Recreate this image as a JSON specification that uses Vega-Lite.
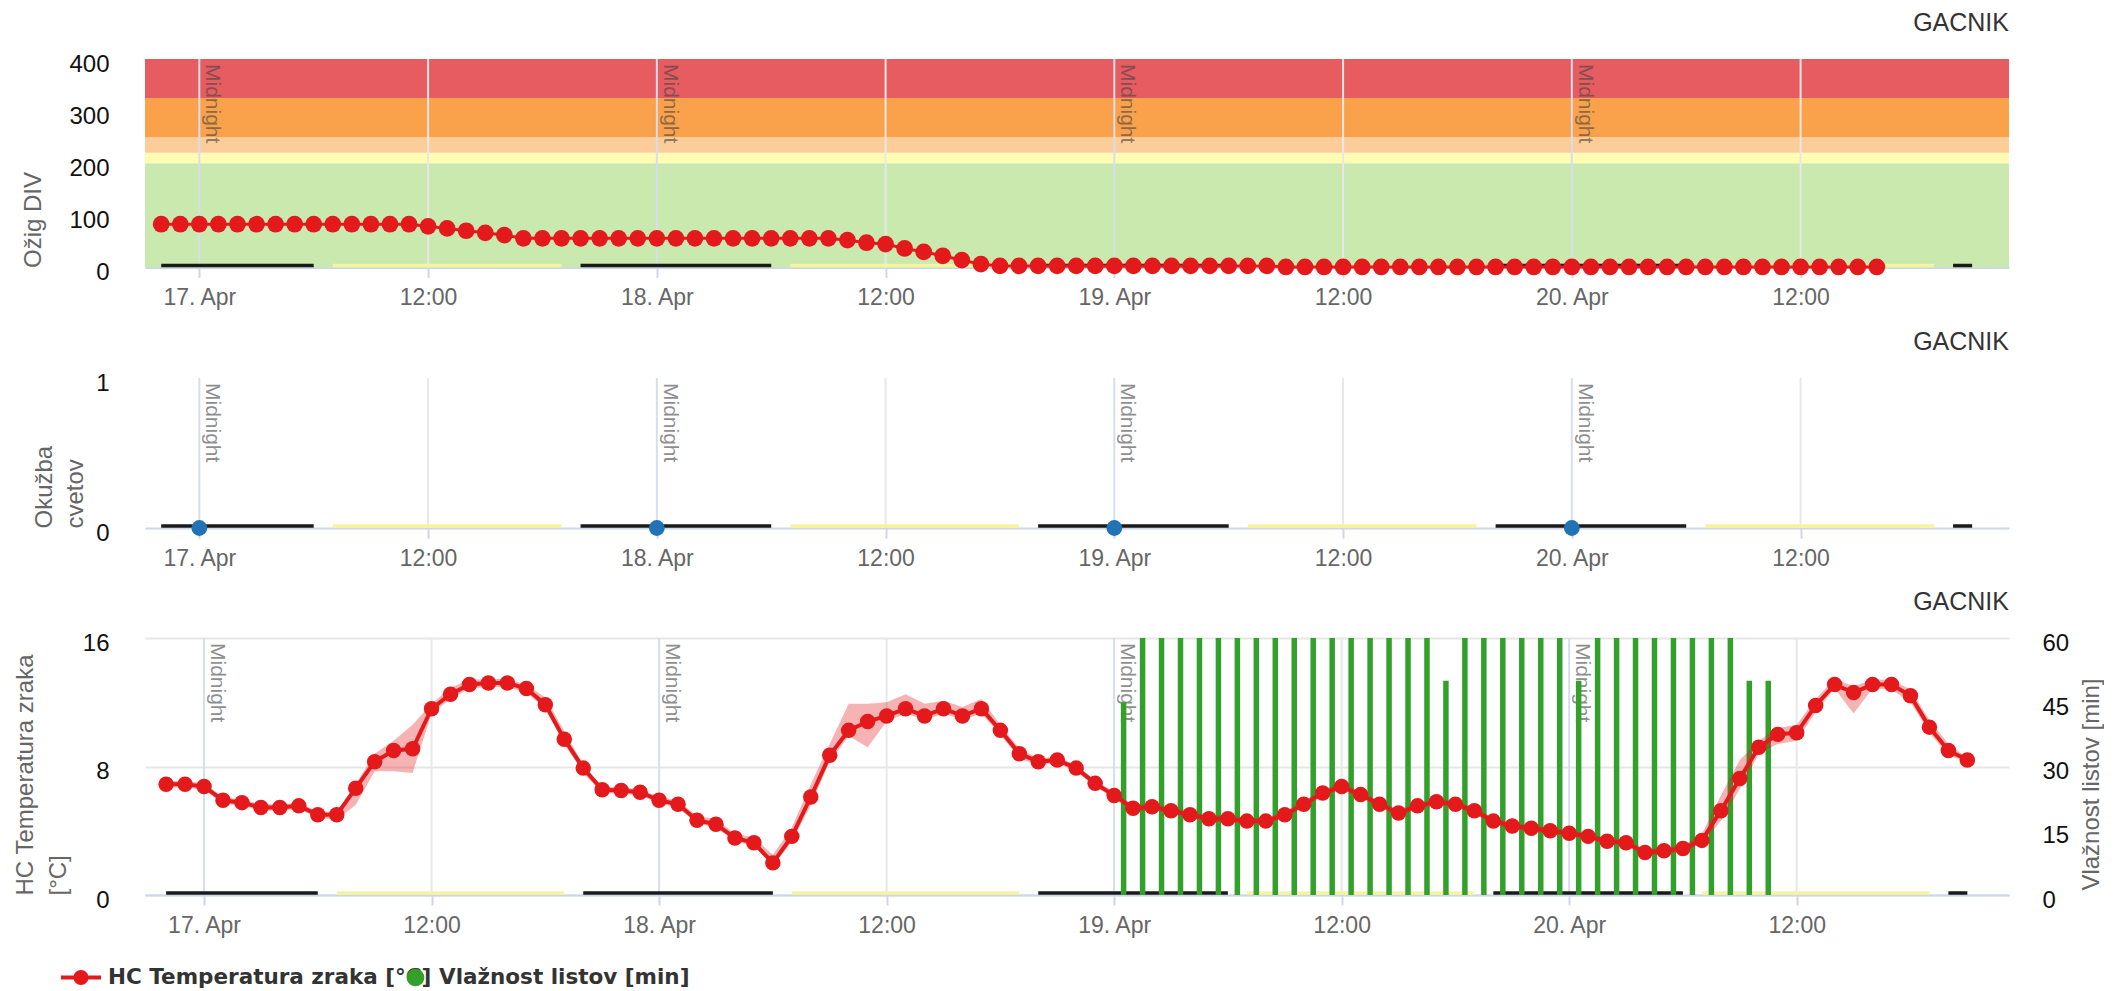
{
  "$schema": "https://vega.github.io/schema/vega-lite/v6.json",
  "padding": {"left": 13, "top": 11, "right": 1, "bottom": 0},
  "bounds": "flush",
  "spacing": 110,
  "resolve": {"scale": {"color": "independent", "fill": "independent"}},
  "datasets": {
    "bands": [
      {"lo": 0, "hi": 200, "c": "a"},
      {"lo": 200, "hi": 220, "c": "b"},
      {"lo": 220, "hi": 250, "c": "c"},
      {"lo": 250, "hi": 325, "c": "d"},
      {"lo": 325, "hi": 400, "c": "e"}
    ],
    "vl": [
      {"t": "2024-04-17T00:00Z", "k": "m"}, {"t": "2024-04-17T12:00Z", "k": "n"},
      {"t": "2024-04-18T00:00Z", "k": "m"}, {"t": "2024-04-18T12:00Z", "k": "n"},
      {"t": "2024-04-19T00:00Z", "k": "m"}, {"t": "2024-04-19T12:00Z", "k": "n"},
      {"t": "2024-04-20T00:00Z", "k": "m"}, {"t": "2024-04-20T12:00Z", "k": "n"}
    ],
    "mid": [
      {"t": "2024-04-17T00:00Z"}, {"t": "2024-04-18T00:00Z"}, {"t": "2024-04-19T00:00Z"}, {"t": "2024-04-20T00:00Z"}
    ],
    "nd": [
      {"t": "2024-04-16T22:00Z", "t2": "2024-04-17T06:00Z", "k": "n"},
      {"t": "2024-04-17T07:00Z", "t2": "2024-04-17T19:00Z", "k": "d"},
      {"t": "2024-04-17T20:00Z", "t2": "2024-04-18T06:00Z", "k": "n"},
      {"t": "2024-04-18T07:00Z", "t2": "2024-04-18T19:00Z", "k": "d"},
      {"t": "2024-04-18T20:00Z", "t2": "2024-04-19T06:00Z", "k": "n"},
      {"t": "2024-04-19T07:00Z", "t2": "2024-04-19T19:00Z", "k": "d"},
      {"t": "2024-04-19T20:00Z", "t2": "2024-04-20T06:00Z", "k": "n"},
      {"t": "2024-04-20T07:00Z", "t2": "2024-04-20T19:00Z", "k": "d"},
      {"t": "2024-04-20T20:00Z", "t2": "2024-04-20T21:00Z", "k": "n"}
    ],
    "inf": [
      {"t": "2024-04-17T00:00Z", "v": 0}, {"t": "2024-04-18T00:00Z", "v": 0},
      {"t": "2024-04-19T00:00Z", "v": 0}, {"t": "2024-04-20T00:00Z", "v": 0}
    ],
    "div": [
      {"t": "2024-04-16T22:00Z", "v": 83}, {"t": "2024-04-16T23:00Z", "v": 83},
      {"t": "2024-04-17T00:00Z", "v": 83}, {"t": "2024-04-17T01:00Z", "v": 83}, {"t": "2024-04-17T02:00Z", "v": 83},
      {"t": "2024-04-17T03:00Z", "v": 83}, {"t": "2024-04-17T04:00Z", "v": 83}, {"t": "2024-04-17T05:00Z", "v": 83},
      {"t": "2024-04-17T06:00Z", "v": 83}, {"t": "2024-04-17T07:00Z", "v": 83}, {"t": "2024-04-17T08:00Z", "v": 83},
      {"t": "2024-04-17T09:00Z", "v": 83}, {"t": "2024-04-17T10:00Z", "v": 83}, {"t": "2024-04-17T11:00Z", "v": 83},
      {"t": "2024-04-17T12:00Z", "v": 79}, {"t": "2024-04-17T13:00Z", "v": 75}, {"t": "2024-04-17T14:00Z", "v": 70.5},
      {"t": "2024-04-17T15:00Z", "v": 66.5}, {"t": "2024-04-17T16:00Z", "v": 62}, {"t": "2024-04-17T17:00Z", "v": 56},
      {"t": "2024-04-17T18:00Z", "v": 56}, {"t": "2024-04-17T19:00Z", "v": 56}, {"t": "2024-04-17T20:00Z", "v": 56},
      {"t": "2024-04-17T21:00Z", "v": 56}, {"t": "2024-04-17T22:00Z", "v": 56}, {"t": "2024-04-17T23:00Z", "v": 56},
      {"t": "2024-04-18T00:00Z", "v": 56}, {"t": "2024-04-18T01:00Z", "v": 56}, {"t": "2024-04-18T02:00Z", "v": 56},
      {"t": "2024-04-18T03:00Z", "v": 56}, {"t": "2024-04-18T04:00Z", "v": 56}, {"t": "2024-04-18T05:00Z", "v": 56},
      {"t": "2024-04-18T06:00Z", "v": 56}, {"t": "2024-04-18T07:00Z", "v": 56}, {"t": "2024-04-18T08:00Z", "v": 56},
      {"t": "2024-04-18T09:00Z", "v": 56}, {"t": "2024-04-18T10:00Z", "v": 52.5}, {"t": "2024-04-18T11:00Z", "v": 47.5},
      {"t": "2024-04-18T12:00Z", "v": 45}, {"t": "2024-04-18T13:00Z", "v": 36.5}, {"t": "2024-04-18T14:00Z", "v": 30},
      {"t": "2024-04-18T15:00Z", "v": 22.5}, {"t": "2024-04-18T16:00Z", "v": 14}, {"t": "2024-04-18T17:00Z", "v": 6.5},
      {"t": "2024-04-18T18:00Z", "v": 3}, {"t": "2024-04-18T19:00Z", "v": 3}, {"t": "2024-04-18T20:00Z", "v": 3},
      {"t": "2024-04-18T21:00Z", "v": 3}, {"t": "2024-04-18T22:00Z", "v": 3}, {"t": "2024-04-18T23:00Z", "v": 3},
      {"t": "2024-04-19T00:00Z", "v": 3}, {"t": "2024-04-19T01:00Z", "v": 3}, {"t": "2024-04-19T02:00Z", "v": 3},
      {"t": "2024-04-19T03:00Z", "v": 3}, {"t": "2024-04-19T04:00Z", "v": 3}, {"t": "2024-04-19T05:00Z", "v": 3},
      {"t": "2024-04-19T06:00Z", "v": 3}, {"t": "2024-04-19T07:00Z", "v": 3}, {"t": "2024-04-19T08:00Z", "v": 3},
      {"t": "2024-04-19T09:00Z", "v": 1}, {"t": "2024-04-19T10:00Z", "v": 1}, {"t": "2024-04-19T11:00Z", "v": 1},
      {"t": "2024-04-19T12:00Z", "v": 1}, {"t": "2024-04-19T13:00Z", "v": 1}, {"t": "2024-04-19T14:00Z", "v": 1},
      {"t": "2024-04-19T15:00Z", "v": 1}, {"t": "2024-04-19T16:00Z", "v": 1}, {"t": "2024-04-19T17:00Z", "v": 1},
      {"t": "2024-04-19T18:00Z", "v": 1}, {"t": "2024-04-19T19:00Z", "v": 1}, {"t": "2024-04-19T20:00Z", "v": 1},
      {"t": "2024-04-19T21:00Z", "v": 1}, {"t": "2024-04-19T22:00Z", "v": 1}, {"t": "2024-04-19T23:00Z", "v": 1},
      {"t": "2024-04-20T00:00Z", "v": 1}, {"t": "2024-04-20T01:00Z", "v": 1}, {"t": "2024-04-20T02:00Z", "v": 1},
      {"t": "2024-04-20T03:00Z", "v": 1}, {"t": "2024-04-20T04:00Z", "v": 1}, {"t": "2024-04-20T05:00Z", "v": 1},
      {"t": "2024-04-20T06:00Z", "v": 1}, {"t": "2024-04-20T07:00Z", "v": 1}, {"t": "2024-04-20T08:00Z", "v": 1},
      {"t": "2024-04-20T09:00Z", "v": 1}, {"t": "2024-04-20T10:00Z", "v": 1}, {"t": "2024-04-20T11:00Z", "v": 1},
      {"t": "2024-04-20T12:00Z", "v": 1}, {"t": "2024-04-20T13:00Z", "v": 1}, {"t": "2024-04-20T14:00Z", "v": 1},
      {"t": "2024-04-20T15:00Z", "v": 1}, {"t": "2024-04-20T16:00Z", "v": 1}
    ],
    "wet": [
      {"t": "2024-04-19T00:30Z", "m": 45}, {"t": "2024-04-19T01:30Z", "m": 60}, {"t": "2024-04-19T02:30Z", "m": 60},
      {"t": "2024-04-19T03:30Z", "m": 60}, {"t": "2024-04-19T04:30Z", "m": 60}, {"t": "2024-04-19T05:30Z", "m": 60},
      {"t": "2024-04-19T06:30Z", "m": 60}, {"t": "2024-04-19T07:30Z", "m": 60}, {"t": "2024-04-19T08:30Z", "m": 60},
      {"t": "2024-04-19T09:30Z", "m": 60}, {"t": "2024-04-19T10:30Z", "m": 60}, {"t": "2024-04-19T11:30Z", "m": 60},
      {"t": "2024-04-19T12:30Z", "m": 60}, {"t": "2024-04-19T13:30Z", "m": 60}, {"t": "2024-04-19T14:30Z", "m": 60},
      {"t": "2024-04-19T15:30Z", "m": 60}, {"t": "2024-04-19T16:30Z", "m": 60}, {"t": "2024-04-19T17:30Z", "m": 50},
      {"t": "2024-04-19T18:30Z", "m": 60}, {"t": "2024-04-19T19:30Z", "m": 60}, {"t": "2024-04-19T20:30Z", "m": 60},
      {"t": "2024-04-19T21:30Z", "m": 60}, {"t": "2024-04-19T22:30Z", "m": 60}, {"t": "2024-04-19T23:30Z", "m": 60},
      {"t": "2024-04-20T00:30Z", "m": 50}, {"t": "2024-04-20T01:30Z", "m": 60}, {"t": "2024-04-20T02:30Z", "m": 60},
      {"t": "2024-04-20T03:30Z", "m": 60}, {"t": "2024-04-20T04:30Z", "m": 60}, {"t": "2024-04-20T05:30Z", "m": 60},
      {"t": "2024-04-20T06:30Z", "m": 60}, {"t": "2024-04-20T07:30Z", "m": 60}, {"t": "2024-04-20T08:30Z", "m": 60},
      {"t": "2024-04-20T09:30Z", "m": 50}, {"t": "2024-04-20T10:30Z", "m": 50}
    ],
    "temp": [
      {"t": "2024-04-16T22:00Z", "v": 6.9, "lo": 6.7, "hi": 7.1},
      {"t": "2024-04-16T23:00Z", "v": 6.9, "lo": 6.7, "hi": 7.1},
      {"t": "2024-04-17T00:00Z", "v": 6.75, "lo": 6.55, "hi": 6.95},
      {"t": "2024-04-17T01:00Z", "v": 5.9, "lo": 5.7, "hi": 6.1},
      {"t": "2024-04-17T02:00Z", "v": 5.75, "lo": 5.55, "hi": 5.95},
      {"t": "2024-04-17T03:00Z", "v": 5.45, "lo": 5.25, "hi": 5.65},
      {"t": "2024-04-17T04:00Z", "v": 5.45, "lo": 5.25, "hi": 5.65},
      {"t": "2024-04-17T05:00Z", "v": 5.55, "lo": 5.35, "hi": 5.75},
      {"t": "2024-04-17T06:00Z", "v": 5.0, "lo": 4.8, "hi": 5.2},
      {"t": "2024-04-17T07:00Z", "v": 5.0, "lo": 4.7, "hi": 5.2},
      {"t": "2024-04-17T08:00Z", "v": 6.65, "lo": 5.6, "hi": 6.9},
      {"t": "2024-04-17T09:00Z", "v": 8.3, "lo": 7.7, "hi": 8.8},
      {"t": "2024-04-17T10:00Z", "v": 9.0, "lo": 7.7, "hi": 9.6},
      {"t": "2024-04-17T11:00Z", "v": 9.1, "lo": 7.6, "hi": 10.6},
      {"t": "2024-04-17T12:00Z", "v": 11.6, "lo": 11.3, "hi": 11.9},
      {"t": "2024-04-17T13:00Z", "v": 12.5, "lo": 12.2, "hi": 12.9},
      {"t": "2024-04-17T14:00Z", "v": 13.1, "lo": 12.85, "hi": 13.4},
      {"t": "2024-04-17T15:00Z", "v": 13.2, "lo": 12.95, "hi": 13.45},
      {"t": "2024-04-17T16:00Z", "v": 13.2, "lo": 12.95, "hi": 13.45},
      {"t": "2024-04-17T17:00Z", "v": 12.85, "lo": 12.6, "hi": 13.1},
      {"t": "2024-04-17T18:00Z", "v": 11.85, "lo": 11.6, "hi": 12.3},
      {"t": "2024-04-17T19:00Z", "v": 9.7, "lo": 9.4, "hi": 10.2},
      {"t": "2024-04-17T20:00Z", "v": 7.9, "lo": 7.6, "hi": 8.1},
      {"t": "2024-04-17T21:00Z", "v": 6.55, "lo": 6.35, "hi": 6.75},
      {"t": "2024-04-17T22:00Z", "v": 6.5, "lo": 6.3, "hi": 6.7},
      {"t": "2024-04-17T23:00Z", "v": 6.4, "lo": 6.2, "hi": 6.6},
      {"t": "2024-04-18T00:00Z", "v": 5.9, "lo": 5.7, "hi": 6.1},
      {"t": "2024-04-18T01:00Z", "v": 5.65, "lo": 5.45, "hi": 5.9},
      {"t": "2024-04-18T02:00Z", "v": 4.65, "lo": 4.45, "hi": 4.9},
      {"t": "2024-04-18T03:00Z", "v": 4.4, "lo": 4.2, "hi": 4.75},
      {"t": "2024-04-18T04:00Z", "v": 3.55, "lo": 3.35, "hi": 3.8},
      {"t": "2024-04-18T05:00Z", "v": 3.25, "lo": 3.05, "hi": 3.6},
      {"t": "2024-04-18T06:00Z", "v": 2.0, "lo": 1.8, "hi": 2.5},
      {"t": "2024-04-18T07:00Z", "v": 3.65, "lo": 3.3, "hi": 4.2},
      {"t": "2024-04-18T08:00Z", "v": 6.1, "lo": 5.6, "hi": 6.9},
      {"t": "2024-04-18T09:00Z", "v": 8.7, "lo": 8.3, "hi": 9.4},
      {"t": "2024-04-18T10:00Z", "v": 10.25, "lo": 9.9, "hi": 11.9},
      {"t": "2024-04-18T11:00Z", "v": 10.8, "lo": 9.2, "hi": 11.9},
      {"t": "2024-04-18T12:00Z", "v": 11.15, "lo": 10.8, "hi": 12.0},
      {"t": "2024-04-18T13:00Z", "v": 11.6, "lo": 11.3, "hi": 12.5},
      {"t": "2024-04-18T14:00Z", "v": 11.15, "lo": 10.9, "hi": 11.9},
      {"t": "2024-04-18T15:00Z", "v": 11.6, "lo": 11.3, "hi": 12.1},
      {"t": "2024-04-18T16:00Z", "v": 11.15, "lo": 10.9, "hi": 11.7},
      {"t": "2024-04-18T17:00Z", "v": 11.6, "lo": 11.3, "hi": 12.2},
      {"t": "2024-04-18T18:00Z", "v": 10.25, "lo": 10.0, "hi": 10.6},
      {"t": "2024-04-18T19:00Z", "v": 8.8, "lo": 8.5, "hi": 9.1},
      {"t": "2024-04-18T20:00Z", "v": 8.3, "lo": 8.1, "hi": 8.5},
      {"t": "2024-04-18T21:00Z", "v": 8.4, "lo": 8.2, "hi": 8.6},
      {"t": "2024-04-18T22:00Z", "v": 7.9, "lo": 7.7, "hi": 8.1},
      {"t": "2024-04-18T23:00Z", "v": 6.95, "lo": 6.75, "hi": 7.15},
      {"t": "2024-04-19T00:00Z", "v": 6.2, "lo": 6.0, "hi": 6.4},
      {"t": "2024-04-19T01:00Z", "v": 5.4, "lo": 5.2, "hi": 5.6},
      {"t": "2024-04-19T02:00Z", "v": 5.5, "lo": 5.3, "hi": 5.7},
      {"t": "2024-04-19T03:00Z", "v": 5.25, "lo": 5.05, "hi": 5.45},
      {"t": "2024-04-19T04:00Z", "v": 5.0, "lo": 4.8, "hi": 5.2},
      {"t": "2024-04-19T05:00Z", "v": 4.75, "lo": 4.55, "hi": 4.95},
      {"t": "2024-04-19T06:00Z", "v": 4.75, "lo": 4.55, "hi": 4.95},
      {"t": "2024-04-19T07:00Z", "v": 4.6, "lo": 4.4, "hi": 4.8},
      {"t": "2024-04-19T08:00Z", "v": 4.6, "lo": 4.4, "hi": 4.8},
      {"t": "2024-04-19T09:00Z", "v": 5.0, "lo": 4.8, "hi": 5.2},
      {"t": "2024-04-19T10:00Z", "v": 5.65, "lo": 5.45, "hi": 5.85},
      {"t": "2024-04-19T11:00Z", "v": 6.35, "lo": 6.15, "hi": 6.55},
      {"t": "2024-04-19T12:00Z", "v": 6.75, "lo": 6.55, "hi": 6.95},
      {"t": "2024-04-19T13:00Z", "v": 6.25, "lo": 6.05, "hi": 6.45},
      {"t": "2024-04-19T14:00Z", "v": 5.65, "lo": 5.45, "hi": 5.85},
      {"t": "2024-04-19T15:00Z", "v": 5.1, "lo": 4.9, "hi": 5.3},
      {"t": "2024-04-19T16:00Z", "v": 5.55, "lo": 5.35, "hi": 5.75},
      {"t": "2024-04-19T17:00Z", "v": 5.8, "lo": 5.6, "hi": 6.0},
      {"t": "2024-04-19T18:00Z", "v": 5.65, "lo": 5.45, "hi": 5.85},
      {"t": "2024-04-19T19:00Z", "v": 5.25, "lo": 5.05, "hi": 5.45},
      {"t": "2024-04-19T20:00Z", "v": 4.6, "lo": 4.4, "hi": 4.8},
      {"t": "2024-04-19T21:00Z", "v": 4.3, "lo": 4.1, "hi": 4.5},
      {"t": "2024-04-19T22:00Z", "v": 4.15, "lo": 3.95, "hi": 4.35},
      {"t": "2024-04-19T23:00Z", "v": 4.0, "lo": 3.8, "hi": 4.2},
      {"t": "2024-04-20T00:00Z", "v": 3.85, "lo": 3.65, "hi": 4.05},
      {"t": "2024-04-20T01:00Z", "v": 3.65, "lo": 3.45, "hi": 3.85},
      {"t": "2024-04-20T02:00Z", "v": 3.35, "lo": 3.15, "hi": 3.55},
      {"t": "2024-04-20T03:00Z", "v": 3.25, "lo": 3.05, "hi": 3.45},
      {"t": "2024-04-20T04:00Z", "v": 2.65, "lo": 2.45, "hi": 2.85},
      {"t": "2024-04-20T05:00Z", "v": 2.75, "lo": 2.55, "hi": 2.95},
      {"t": "2024-04-20T06:00Z", "v": 2.9, "lo": 2.7, "hi": 3.1},
      {"t": "2024-04-20T07:00Z", "v": 3.4, "lo": 3.2, "hi": 3.8},
      {"t": "2024-04-20T08:00Z", "v": 5.25, "lo": 4.6, "hi": 6.2},
      {"t": "2024-04-20T09:00Z", "v": 7.25, "lo": 6.6, "hi": 8.4},
      {"t": "2024-04-20T10:00Z", "v": 9.2, "lo": 8.8, "hi": 9.6},
      {"t": "2024-04-20T11:00Z", "v": 10.0, "lo": 9.4, "hi": 10.4},
      {"t": "2024-04-20T12:00Z", "v": 10.1, "lo": 9.6, "hi": 10.6},
      {"t": "2024-04-20T13:00Z", "v": 11.8, "lo": 11.4, "hi": 12.2},
      {"t": "2024-04-20T14:00Z", "v": 13.1, "lo": 12.85, "hi": 13.45},
      {"t": "2024-04-20T15:00Z", "v": 12.6, "lo": 11.3, "hi": 13.0},
      {"t": "2024-04-20T16:00Z", "v": 13.1, "lo": 12.85, "hi": 13.4},
      {"t": "2024-04-20T17:00Z", "v": 13.1, "lo": 12.8, "hi": 13.4},
      {"t": "2024-04-20T18:00Z", "v": 12.4, "lo": 12.0, "hi": 12.8},
      {"t": "2024-04-20T19:00Z", "v": 10.45, "lo": 10.1, "hi": 10.9},
      {"t": "2024-04-20T20:00Z", "v": 9.0, "lo": 8.7, "hi": 9.4},
      {"t": "2024-04-20T21:00Z", "v": 8.4, "lo": 8.25, "hi": 8.55}
    ]
  },
  "vconcat": [
    {
      "width": 1864,
      "height": 208.5,
      "title": "GACNIK",
      "layer": [
        {
          "data": {"name": "bands"},
          "mark": {"type": "rect"},
          "encoding": {
            "y": {"field": "lo", "type": "quantitative", "scale": {"domain": [0, 400]},
                  "axis": {"values": [0, 100, 200, 300, 400], "title": "Ožig DIV", "titleX": -105, "titleY": 208.5}},
            "y2": {"field": "hi"},
            "color": {"field": "c", "type": "nominal", "legend": null,
                      "scale": {"domain": ["a", "b", "c", "d", "e"], "range": ["#c9e9ae", "#fefcb4", "#fccd98", "#f9a24b", "#e75c61"]}}
          }
        },
        {
          "data": {"name": "vl"},
          "mark": {"type": "rule", "strokeWidth": 2},
          "encoding": {
            "x": {"field": "t", "type": "temporal", "title": null,
                  "scale": {"type": "utc", "domain": [1713301740000, 1713653760000]},
                  "axis": {"values": [1713312000000, 1713355200000, 1713398400000, 1713441600000, 1713484800000, 1713528000000, 1713571200000, 1713614400000],
                           "labelExpr": "utchours(datum.value) == 0 ? utcFormat(datum.value, '%-d. %b') : utcFormat(datum.value, '%H:%M')"}},
            "color": {"condition": {"test": "datum.k == 'm'", "value": "#d6deed"}, "value": "#e8e8e8"}
          }
        },
        {
          "data": {"name": "nd"},
          "mark": {"type": "rule", "strokeWidth": 3.5, "yOffset": -2},
          "encoding": {
            "x": {"field": "t", "type": "temporal"},
            "x2": {"field": "t2"},
            "y": {"datum": 0},
            "color": {"condition": {"test": "datum.k == 'n'", "value": "#1a1a1a"}, "value": "#f6f59e"}
          }
        },
        {
          "data": {"name": "mid"},
          "mark": {"type": "text", "text": "Midnight", "angle": 90, "align": "left", "baseline": "alphabetic", "dx": 5, "dy": -7, "fontSize": 21, "color": "#444", "opacity": 0.6},
          "encoding": {"x": {"field": "t", "type": "temporal"}, "y": {"datum": 400}}
        },
        {
          "data": {"name": "div"},
          "mark": {"type": "line", "color": "#e3191b", "strokeWidth": 3},
          "encoding": {"x": {"field": "t", "type": "temporal"}, "y": {"field": "v", "type": "quantitative"}}
        },
        {
          "data": {"name": "div"},
          "mark": {"type": "point", "filled": true, "size": 280, "color": "#e3191b", "opacity": 1},
          "encoding": {"x": {"field": "t", "type": "temporal"}, "y": {"field": "v", "type": "quantitative"}}
        }
      ]
    },
    {
      "width": 1864,
      "height": 150,
      "title": "GACNIK",
      "layer": [
        {
          "data": {"name": "vl"},
          "mark": {"type": "rule", "strokeWidth": 2},
          "encoding": {
            "x": {"field": "t", "type": "temporal", "title": null,
                  "scale": {"type": "utc", "domain": [1713301740000, 1713653760000]},
                  "axis": {"values": [1713312000000, 1713355200000, 1713398400000, 1713441600000, 1713484800000, 1713528000000, 1713571200000, 1713614400000],
                           "labelExpr": "utchours(datum.value) == 0 ? utcFormat(datum.value, '%-d. %b') : utcFormat(datum.value, '%H:%M')"}},
            "color": {"condition": {"test": "datum.k == 'm'", "value": "#d6deed"}, "value": "#e8e8e8"}
          }
        },
        {
          "data": {"name": "nd"},
          "mark": {"type": "rule", "strokeWidth": 3.5, "yOffset": -2},
          "encoding": {
            "x": {"field": "t", "type": "temporal"},
            "x2": {"field": "t2"},
            "y": {"datum": 0, "type": "quantitative", "scale": {"domain": [0, 1]},
                  "axis": {"values": [0, 1], "format": "d", "title": ["Okužba", "cvetov"], "titleX": -94, "titleY": 150, "titleLineHeight": 31.5}},
            "color": {"condition": {"test": "datum.k == 'n'", "value": "#1a1a1a"}, "value": "#f6f59e"}
          }
        },
        {
          "data": {"name": "mid"},
          "mark": {"type": "text", "text": "Midnight", "angle": 90, "align": "left", "baseline": "alphabetic", "dx": 5, "dy": -7, "fontSize": 21, "color": "#444", "opacity": 0.6},
          "encoding": {"x": {"field": "t", "type": "temporal"}, "y": {"datum": 1}}
        },
        {
          "data": {"name": "inf"},
          "mark": {"type": "point", "filled": true, "size": 250, "color": "#2273b5", "opacity": 1},
          "encoding": {"x": {"field": "t", "type": "temporal"}, "y": {"field": "v", "type": "quantitative"}}
        }
      ]
    },
    {
      "width": 1864,
      "height": 257,
      "title": "GACNIK",
      "resolve": {"scale": {"y": "independent"}},
      "layer": [
        {
          "layer": [
            {
              "data": {"name": "vl"},
              "mark": {"type": "rule", "strokeWidth": 2},
              "encoding": {
                "x": {"field": "t", "type": "temporal", "title": null,
                      "scale": {"type": "utc", "domain": [1713301740000, 1713653760000]},
                      "axis": {"values": [1713312000000, 1713355200000, 1713398400000, 1713441600000, 1713484800000, 1713528000000, 1713571200000, 1713614400000],
                               "labelExpr": "utchours(datum.value) == 0 ? utcFormat(datum.value, '%-d. %b') : utcFormat(datum.value, '%H:%M')"}},
                "color": {"condition": {"test": "datum.k == 'm'", "value": "#d6deed"}, "value": "#e8e8e8"}
              }
            },
            {
              "data": {"name": "nd"},
              "mark": {"type": "rule", "strokeWidth": 3.5, "yOffset": -2},
              "encoding": {
                "x": {"field": "t", "type": "temporal"},
                "x2": {"field": "t2"},
                "y": {"datum": 0, "type": "quantitative", "scale": {"domain": [0, 16]}, "axis": null},
                "color": {"condition": {"test": "datum.k == 'n'", "value": "#1a1a1a"}, "value": "#f6f59e"}
              }
            },
            {
              "data": {"name": "mid"},
              "mark": {"type": "text", "text": "Midnight", "angle": 90, "align": "left", "baseline": "alphabetic", "dx": 5, "dy": -7, "fontSize": 21, "color": "#444", "opacity": 0.6},
              "encoding": {"x": {"field": "t", "type": "temporal"}, "y": {"datum": 16}}
            }
          ]
        },
        {
          "data": {"name": "wet"},
          "mark": {"type": "bar", "size": 5.5},
          "encoding": {
            "x": {"field": "t", "type": "temporal"},
            "y": {"field": "m", "type": "quantitative", "scale": {"domain": [0, 60]},
                  "axis": {"orient": "right", "values": [0, 15, 30, 45, 60], "labelAlign": "left", "labelPadding": 33,
                           "title": "Vlažnost listov [min]", "titleAngle": 90, "titleAlign": "right", "titleBaseline": "alphabetic", "titleX": 89, "titleY": 40}},
            "fill": {"datum": "Vlažnost listov [min]",
                     "scale": {"domain": ["Vlažnost listov [min]"], "range": ["#33a02c"]},
                     "legend": {"orient": "none", "legendX": 250.5, "legendY": 319.5, "direction": "horizontal", "title": null, "zindex": 2,
                                "labelFont": "DejaVu Sans", "labelFontWeight": "bold", "labelFontSize": 21.5, "labelColor": "#333", "labelLimit": 600,
                                "symbolSize": 1600, "labelOffset": 3.5, "padding": 0,
                                "encode": {"symbols": {"update": {
                                  "shape": {"value": "M0.44,0A0.44,0.44 0 1,1 -0.44,0A0.44,0.44 0 1,1 0.44,0Z"},
                                  "fill": {"value": "#33a02c"},
                                  "stroke": {"value": "transparent"},
                                  "strokeWidth": {"value": 0},
                                  "opacity": {"value": 1},
                                  "fillOpacity": {"value": 1}
                                }}}}}
          }
        },
        {
          "layer": [
            {
              "data": {"name": "temp"},
              "mark": {"type": "area", "color": "#e3191b", "opacity": 0.33},
              "encoding": {
                "x": {"field": "t", "type": "temporal"},
                "y": {"field": "lo", "type": "quantitative", "scale": {"domain": [0, 16]},
                      "axis": {"orient": "left", "values": [0, 8, 16], "grid": true, "gridColor": "#e6e6e6", "gridWidth": 2,
                               "title": ["HC Temperatura zraka", "[°C]"], "titleX": -113, "titleY": 257, "titleLineHeight": 33}},
                "y2": {"field": "hi"}
              }
            },
            {
              "data": {"name": "temp"},
              "mark": {"type": "line", "strokeWidth": 4},
              "encoding": {
                "x": {"field": "t", "type": "temporal"},
                "y": {"field": "v", "type": "quantitative"},
                "color": {"datum": "HC Temperatura zraka [°C]",
                          "scale": {"domain": ["HC Temperatura zraka [°C]"], "range": ["#e3191b"]},
                          "legend": {"orient": "none", "legendX": -84, "legendY": 319.5, "direction": "horizontal", "title": null, "zindex": 1,
                                     "labelFont": "DejaVu Sans", "labelFontWeight": "bold", "labelFontSize": 21.5, "labelColor": "#333", "labelLimit": 600,
                                     "symbolSize": 1600, "labelOffset": 7, "padding": 0,
                                     "encode": {"symbols": {"update": {
                                       "shape": {"value": "M-1,-0.1L1,-0.1L1,0.1L-1,0.1ZM0.375,0A0.375,0.375 0 1,1 -0.375,0A0.375,0.375 0 1,1 0.375,0Z"},
                                       "fill": {"value": "#e3191b"},
                                       "stroke": {"value": "transparent"},
                                       "strokeWidth": {"value": 0},
                                       "opacity": {"value": 1},
                                       "fillOpacity": {"value": 1}
                                     }}}}}
              }
            },
            {
              "data": {"name": "temp"},
              "mark": {"type": "point", "filled": true, "size": 240, "opacity": 1},
              "encoding": {
                "x": {"field": "t", "type": "temporal"},
                "y": {"field": "v", "type": "quantitative"},
                "color": {"datum": "HC Temperatura zraka [°C]"}
              }
            }
          ]
        }
      ]
    }
  ],
  "config": {
    "font": "Liberation Sans",
    "view": {"stroke": null},
    "title": {"anchor": "end", "frame": "group", "offset": 16, "baseline": "alphabetic", "fontSize": 25, "fontWeight": "normal", "color": "#333", "font": "Liberation Sans"},
    "axis": {"titleFont": "Liberation Sans", "labelFont": "Liberation Sans", "titleFontWeight": "normal", "titleColor": "#666", "titleFontSize": 24},
    "axisX": {"grid": false, "domainColor": "#ccd6eb", "domainWidth": 2, "tickColor": "#ccd6eb", "tickWidth": 2, "tickSize": 10,
              "labelFontSize": 23, "labelColor": "#666", "labelPadding": 9, "labelFlush": false, "labelOverlap": false, "zindex": 1},
    "axisY": {"domain": false, "ticks": false, "tickSize": 0, "labelFontSize": 24, "labelColor": "#111", "labelPadding": 36, "labelOffset": 5,
              "grid": false, "titleAlign": "left", "titleBaseline": "alphabetic", "titleAngle": -90}
  }
}
